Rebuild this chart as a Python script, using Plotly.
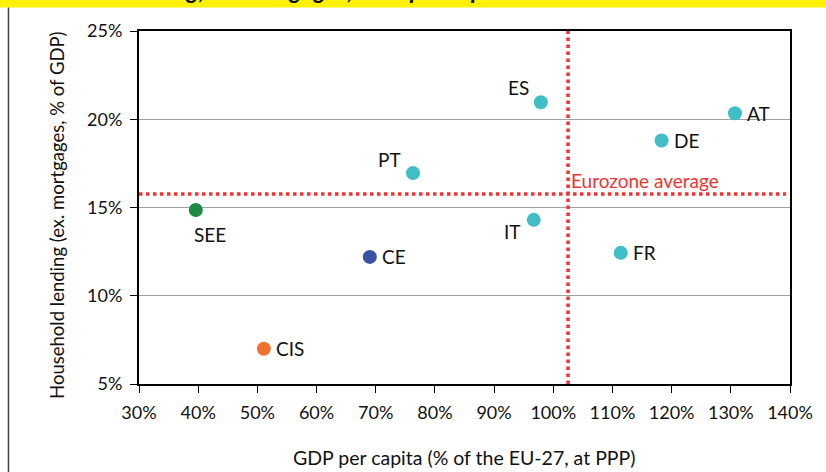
import plotly.graph_objects as go

# Regions / countries
labels = ["SEE", "CE", "CIS", "PT", "ES", "IT", "FR", "DE", "AT"]
gdp_per_capita = [39.6, 69.0, 51.1, 76.3, 97.9, 96.7, 111.4, 118.3, 130.7]
household_lending = [14.86, 12.2, 7.0, 16.95, 20.96, 14.3, 12.43, 18.8, 20.34]
groups = ["SEE", "CE", "CIS", "EZ", "EZ", "EZ", "EZ", "EZ", "EZ"]

# Eurozone averages
ez_avg_gdp = 102.5
ez_avg_lending = 15.76

x_ticks = [30, 40, 50, 60, 70, 80, 90, 100, 110, 120, 130, 140]
y_ticks = [5, 10, 15, 20, 25]

x_title = "GDP per capita (% of the EU-27, at PPP)"
y_title = "Household lending (ex. mortgages, % of GDP)"
header = "Household lending, ex-mortgages, GDP per capita"

group_colors = {"SEE": "#1f8a44", "CE": "#3a52a6", "CIS": "#f07232", "EZ": "#3fbfc5"}
# label placement: (xanchor, yanchor, xshift, yshift)
label_place = {
    "SEE": ("center", "top", 14, -11),
    "CE": ("left", "middle", 10, 0),
    "CIS": ("left", "middle", 10, 0),
    "PT": ("right", "bottom", -10, 0),
    "ES": ("right", "bottom", -10, 1),
    "IT": ("right", "top", -11, 2),
    "FR": ("left", "middle", 10, 0),
    "DE": ("left", "middle", 10, 0),
    "AT": ("left", "middle", 10, 0),
}

FONT = "Lato, 'Open Sans', sans-serif"
RED = "#ee3333"

fig = go.Figure()
fig.add_trace(go.Scatter(
    x=gdp_per_capita, y=household_lending, mode="markers",
    marker=dict(size=14, color=[group_colors[g] for g in groups], line=dict(width=0)),
    hoverinfo="text", text=labels, showlegend=False,
))

for lab, xv, yv in zip(labels, gdp_per_capita, household_lending):
    xa, ya, xs, ys = label_place[lab]
    fig.add_annotation(x=xv, y=yv, text=lab, showarrow=False, xanchor=xa, yanchor=ya,
                       xshift=xs, yshift=ys, font=dict(size=19, color="#111111", family=FONT))

# Eurozone average reference lines
fig.add_shape(type="line", xref="x", yref="paper", x0=ez_avg_gdp, x1=ez_avg_gdp, y0=0, y1=1,
              line=dict(color=RED, width=3.5, dash="dot"))
fig.add_shape(type="line", xref="paper", yref="y", x0=0, x1=0.994, y0=ez_avg_lending, y1=ez_avg_lending,
              line=dict(color=RED, width=3.5, dash="dot"))
fig.add_annotation(x=ez_avg_gdp, y=ez_avg_lending, text="Eurozone average", showarrow=False,
                   xanchor="left", yanchor="bottom", xshift=1, yshift=0,
                   font=dict(size=19, color=RED, family=FONT))

# Axis titles
fig.add_annotation(xref="paper", yref="paper", x=0.5, y=-0.2076, xanchor="center", yanchor="middle",
                   text=x_title, showarrow=False, font=dict(size=19.5, color="#111111", family=FONT))
fig.add_annotation(xref="paper", yref="paper", x=-0.126, y=0.479, xanchor="center", yanchor="middle",
                   text=y_title, textangle=-90, showarrow=False,
                   font=dict(size=18.5, color="#111111", family=FONT))

# Header band (text runs off the top edge) and left rule
fig.add_shape(type="rect", xref="paper", yref="paper", x0=-0.3, x1=1.1, y0=1.0664, y1=1.2,
              fillcolor="#fff200", line=dict(width=0), layer="below")
fig.add_annotation(xref="paper", yref="paper", x=-0.2, y=1.117, xanchor="left", yanchor="middle",
                   text=header, showarrow=False,
                   font=dict(size=24, color="#111111", family=FONT, weight="bold", style="italic"))
fig.add_shape(type="line", xref="paper", yref="paper", x0=-0.2005, x1=-0.2005, y0=1.0664, y1=-0.26,
              line=dict(color="#444444", width=1.5))

fig.update_layout(
    width=826, height=472,
    margin=dict(l=139, r=36, t=30.5, b=87.5, autoexpand=False),
    paper_bgcolor="white", plot_bgcolor="white",
    font=dict(family=FONT, size=18, color="#111111"),
    xaxis=dict(range=[30, 140], tickvals=x_ticks, ticktext=[f"{v}%" for v in x_ticks],
               showgrid=False, zeroline=False, showline=True, linecolor="black", linewidth=1.5,
               mirror=True, ticks="outside", ticklen=7, tickcolor="black", tickwidth=1,
               tickfont=dict(size=18), ticklabelstandoff=5, automargin=False),
    yaxis=dict(range=[5, 25], tickvals=y_ticks, ticktext=[f"{v}%" for v in y_ticks],
               showgrid=True, gridcolor="#a0a0a0", gridwidth=1.2, zeroline=False,
               showline=True, linecolor="black", linewidth=2, mirror=True,
               ticks="outside", ticklen=7, tickcolor="black", tickwidth=1,
               tickfont=dict(size=18), ticklabelstandoff=4, automargin=False),
)

fig.write_html("out.html")
